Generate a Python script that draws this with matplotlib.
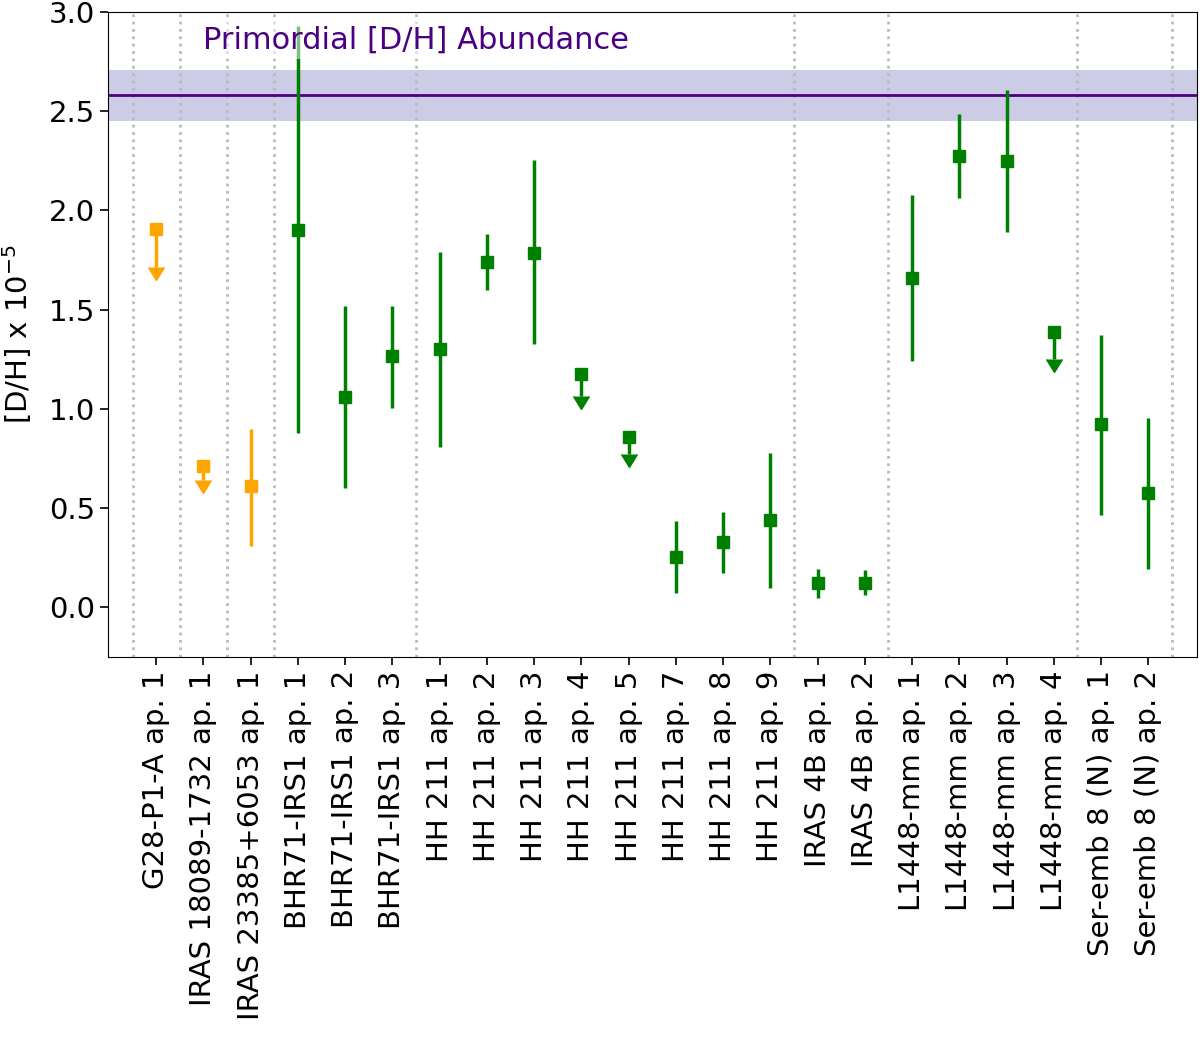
import numpy as np
import matplotlib
matplotlib.use("Agg")
import matplotlib.pyplot as plt

# ==========================================
# DATA
# ==========================================
labels = [
    "G28-P1-A ap. 1", "IRAS 18089-1732 ap. 1", "IRAS 23385+6053 ap. 1",
    "BHR71-IRS1 ap. 1", "BHR71-IRS1 ap. 2", "BHR71-IRS1 ap. 3",
    "HH 211 ap. 1", "HH 211 ap. 2", "HH 211 ap. 3", "HH 211 ap. 4",
    "HH 211 ap. 5", "HH 211 ap. 7", "HH 211 ap. 8", "HH 211 ap. 9",
    "IRAS 4B ap. 1", "IRAS 4B ap. 2",
    "L1448-mm ap. 1", "L1448-mm ap. 2", "L1448-mm ap. 3", "L1448-mm ap. 4",
    "Ser-emb 8 (N) ap. 1", "Ser-emb 8 (N) ap. 2",
]
dh = [1.906, 0.713, 0.61, 1.90, 1.06, 1.266, 1.30, 1.74, 1.785, 1.175,
      0.858, 0.253, 0.329, 0.44, 0.122, 0.122, 1.66, 2.274, 2.249, 1.387,
      0.923, 0.576]
err_hi = [0.19, 0.07, 0.29, 1.03, 0.46, 0.25, 0.49, 0.14, 0.47, 0.11,
          0.086, 0.18, 0.15, 0.34, 0.07, 0.068, 0.42, 0.21, 0.36, 0.136,
          0.45, 0.38]
err_lo = [0.19, 0.07, 0.30, 1.02, 0.46, 0.26, 0.49, 0.14, 0.46, 0.11,
          0.086, 0.18, 0.157, 0.343, 0.076, 0.062, 0.42, 0.21, 0.36, 0.136,
          0.46, 0.383]
is_limit = [True, True, False, False, False, False, False, False, False, True,
            True, False, False, False, False, False, False, False, False, True,
            False, False]
is_massive = [True, True, True] + [False] * 19

# group separators (between sources)
separators = [-0.5, 0.5, 1.5, 2.5, 5.5, 13.5, 15.5, 19.5, 21.5]

primordial = 2.58
primordial_err = 0.13

# ==========================================
# PLOT
# ==========================================
fig = plt.figure(figsize=(12, 10.4), dpi=100)
ax = fig.add_axes([0.09, 0.3683, 0.9075, 0.6202])

x = np.arange(len(labels))
dh = np.array(dh)
err_hi = np.array(err_hi)
err_lo = np.array(err_lo)
is_limit = np.array(is_limit)
is_massive = np.array(is_massive)

for xs in separators:
    ax.axvline(xs, color='#bbbbbb', linestyle=':', linewidth=2, zorder=1)

ax.axhspan(primordial - primordial_err, primordial + primordial_err,
           color='darkblue', alpha=0.2, linewidth=0, zorder=0)
ax.axhline(primordial, color='indigo', linewidth=2, zorder=2)

for massive, col in [(True, 'orange'), (False, 'green')]:
    m = (is_massive == massive) & ~is_limit
    ax.errorbar(x[m], dh[m], yerr=[err_lo[m], err_hi[m]], fmt='s', color=col,
                markersize=8, elinewidth=2.5, capsize=0, zorder=3)
    m = (is_massive == massive) & is_limit
    eb = ax.errorbar(x[m], dh[m], yerr=err_lo[m], uplims=True, fmt='s', color=col,
                     markersize=8, elinewidth=2.5, capsize=6, zorder=3)
    # hide the flat cap under the marker, keep only the arrow head
    for cap in eb[1]:
        if cap.get_marker() in ('_', '|'):
            cap.set_visible(False)

ax.text(1.0, 2.86, "Primordial [D/H] Abundance", color='indigo', fontsize=22,
        va='center', ha='left', zorder=4,
        bbox=dict(facecolor='white', alpha=0.5, edgecolor='none', pad=3))

ax.set_xlim(-1.02, 22.03)
ax.set_ylim(-0.25, 3.0)
ax.set_xticks(x)
ax.set_xticklabels(labels, rotation=90, fontsize=21)
ax.set_yticks([0.0, 0.5, 1.0, 1.5, 2.0, 2.5, 3.0])
ax.tick_params(axis='y', labelsize=21)
ax.tick_params(length=6, width=1.2)
ax.set_ylabel("[D/H] x 10$^{-5}$", fontsize=21)
ax.yaxis.set_label_coords(-0.068, 0.5)

plt.savefig("out.png", dpi=100)
